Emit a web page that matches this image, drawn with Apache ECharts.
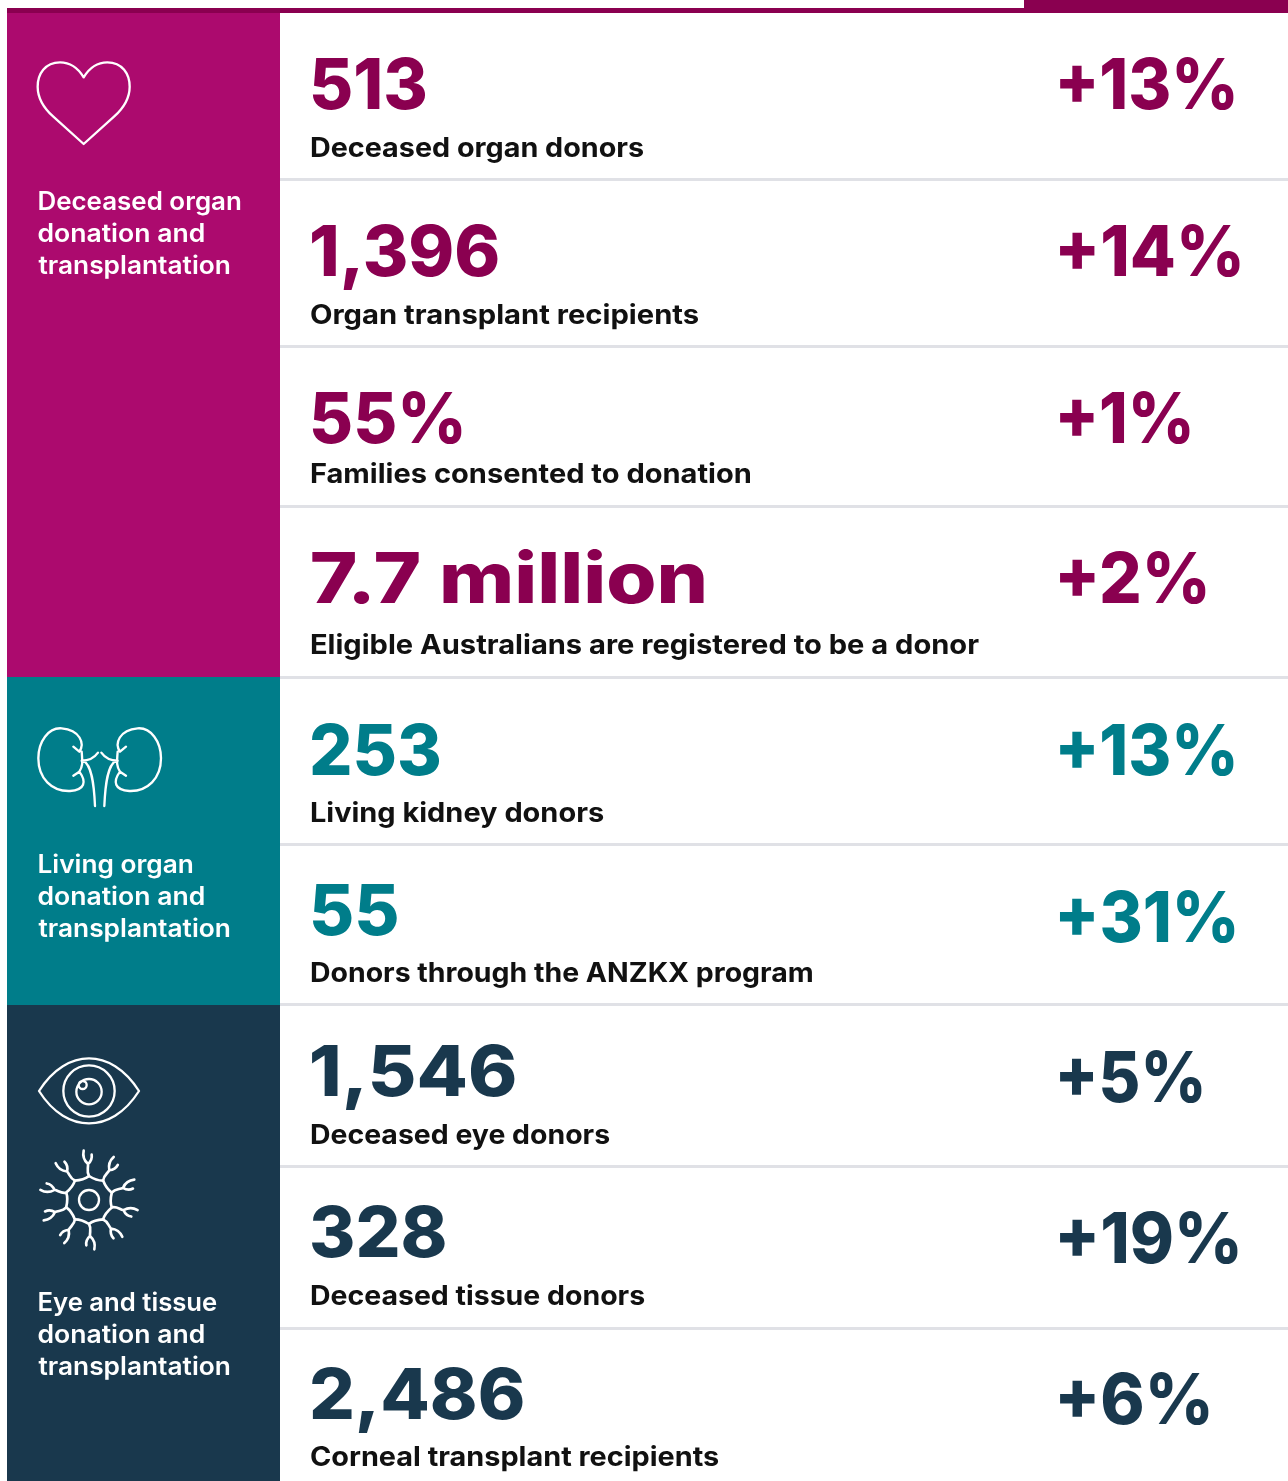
<!DOCTYPE html>
<html>
<head>
<meta charset="utf-8">
<style>
  html, body { margin: 0; padding: 0; background: #fff; }
  #main { width: 1288px; height: 1481px; }
</style>
<script src="https://cdn.jsdelivr.net/npm/echarts@6/dist/echarts.min.js"></script>
</head>
<body>
<div id="main"></div>
<script>
// figures
const metricValues = ['513', '1,396', '55%', '7.7 million', '253', '55', '1,546', '328', '2,486'];
const metricLabels = [
  'Deceased organ donors',
  'Organ transplant recipients',
  'Families consented to donation',
  'Eligible Australians are registered to be a donor',
  'Living kidney donors',
  'Donors through the ANZKX program',
  'Deceased eye donors',
  'Deceased tissue donors',
  'Corneal transplant recipients'
];
const metricChanges = ['+13%', '+14%', '+1%', '+2%', '+13%', '+31%', '+5%', '+19%', '+6%'];
const sectionNames = [
  ['Deceased organ', 'donation and', 'transplantation'],
  ['Living organ', 'donation and', 'transplantation'],
  ['Eye and tissue', 'donation and', 'transplantation']
];
const rowSection = [0, 0, 0, 0, 1, 1, 2, 2, 2];

// layout, in page pixels
const rowBottoms = [179, 346, 506, 677, 844, 1004, 1166, 1328];
const valueMidY = [88, 255, 422, 582, 754, 914, 1075, 1236, 1398];
const labelMidY = [149, 316, 475, 646, 814, 974, 1136, 1297, 1458];
const changeMidY = [88, 255, 422, 582, 754, 921, 1081, 1242, 1403];
const valueWidths = [114, 186, 150, 392, 128, 85, 203, 133, 211];
const labelWidths = [333, 388, 440, 668, 293, 501, 299, 334, 408];
const changeWidths = [174, 180, 130, 146, 174, 175, 142, 178, 149];
const sectionWidths = [[202, 165, 191], [154, 165, 191], [178, 165, 191]];
const panelEdges = [[13, 677], [677, 1005], [1005, 1481]];
const sectionTextY = [202.5, 865.5, 1303.5];

const panelColors = ['#ac0a6e', '#007d8a', '#19384d'];
const textColors = ['#8a0050', '#007d8a', '#19384d'];
const FONT = 'Inter, sans-serif';

const chart = echarts.init(document.getElementById('main'), null, { renderer: 'canvas' });
const measure = document.createElement('canvas').getContext('2d');

function rect(api, x0, y0, x1, y1, fill) {
  const a = api.coord([x0, y0]);
  const b = api.coord([x1, y1]);
  return { type: 'rect', shape: { x: a[0], y: a[1], width: b[0] - a[0], height: b[1] - a[1] }, style: { fill: fill }, silent: true };
}

// the page font is wider than Inter, so each string is stretched to the width it has in the picture
function fitText(api, left, y, str, font, fill, width) {
  measure.font = font;
  const m = measure.measureText(str);
  const sx = width / (m.actualBoundingBoxLeft + m.actualBoundingBoxRight);
  const p = api.coord([left + m.actualBoundingBoxLeft * sx, y]);
  return {
    type: 'text', x: p[0], y: p[1], scaleX: sx, silent: true,
    style: { text: str, font: font, fill: fill, align: 'left', verticalAlign: 'middle' }
  };
}

function renderPanel(params, api) {
  const i = api.value(0);
  const kids = [rect(api, 7, panelEdges[i][0], 280, panelEdges[i][1], panelColors[i])];
  sectionNames[i].forEach((line, k) => {
    kids.push(fitText(api, 38.5, sectionTextY[i] + k * 32, line, '600 25px ' + FONT, '#fff', sectionWidths[i][k]));
  });
  return { type: 'group', children: kids };
}

function renderRow(params, api) {
  const i = api.value(0);
  const color = textColors[rowSection[i]];
  const kids = [
    fitText(api, 312, valueMidY[i], metricValues[i], '800 70px ' + FONT, color, valueWidths[i]),
    fitText(api, 311, labelMidY[i], metricLabels[i], '700 27px ' + FONT, '#111', labelWidths[i]),
    fitText(api, 1060, changeMidY[i], metricChanges[i], '800 70px ' + FONT, color, changeWidths[i])
  ];
  if (i < rowBottoms.length) {
    kids.push(rect(api, 280, rowBottoms[i] - 1, 1288, rowBottoms[i] + 2, '#e0e1e6'));
  }
  return { type: 'group', children: kids };
}

// outline icons, drawn in a 3x box then scaled down
const iconLine = { stroke: '#fff', fill: null, lineWidth: 7, lineCap: 'round', lineJoin: 'round' };
function icon(x, y, pathData, rotation, lineWidth) {
  return {
    type: 'path', x: x, y: y, scaleX: 1 / 3, scaleY: 1 / 3, rotation: rotation || 0, silent: true,
    shape: { pathData: pathData }, style: Object.assign({}, iconLine, lineWidth ? { lineWidth: lineWidth } : {})
  };
}

const heartPath = 'M191 70 C170 35 145 25 120 25 C75 25 53 60 53 98 C53 138 80 170 100 188 L191 270 L282 188 C302 170 329 138 329 98 C329 60 307 25 262 25 C237 25 212 35 191 70 Z';

const kidneyPath =
  'M160 110 L178 125 C195 100 180 60 125 55 C85 52 55 95 55 145 C55 205 95 245 150 243 C195 240 200 215 178 185 L160 197 M178 185 C188 170 188 160 185 125' +
  'M234 128 C222 145 205 152 185 152 M190 152 C215 165 222 220 225 288' +
  'M318 110 L300 125 C283 100 298 60 353 55 C393 52 423 95 423 145 C423 205 383 245 328 243 C283 240 278 215 300 185 L318 197 M300 185 C290 170 290 160 293 125' +
  'M244 128 C256 145 273 152 293 152 M288 152 C263 165 256 220 253 288';

const eyePath =
  'M57 153 C100 85 155 55 207 55 C259 55 314 85 357 153 C314 221 259 250 207 250 C155 250 100 221 57 153 Z' +
  'M284 153 A77 77 0 1 1 130 153 A77 77 0 1 1 284 153 Z' +
  'M245 155 A38 38 0 1 1 169 155 A38 38 0 1 1 245 155 Z' +
  'M200 135 A12 12 0 1 1 176 135 A12 12 0 1 1 200 135 Z';

const cellPath = 'M30 0 A30 30 0 1 1 -30 0 A30 30 0 1 1 30 0 Z';
const cellBranch =
  'M0 -72 Q22 -58 42 -58 M0 -72 C-8 -85 -2 -95 -3 -108 C-14 -118 -20 -130 -16 -148 M-3 -108 C6 -116 10 -124 8 -136';

function renderIcons(params, api) {
  const kids = [
    icon(...api.coord([20, 54]), heartPath),
    icon(...api.coord([20, 710]), kidneyPath),
    icon(...api.coord([20, 1040]), eyePath),
    icon(...api.coord([89, 1200]), cellPath)
  ];
  for (let k = 0; k < 10; k++) {
    kids.push(icon(...api.coord([89, 1200]), cellBranch, -k * Math.PI / 5, 8));
  }
  return { type: 'group', children: kids };
}

chart.setOption({
  animation: false,
  backgroundColor: '#fff',
  grid: { left: 0, right: 0, top: 0, bottom: 0 },
  xAxis: { type: 'value', min: 0, max: 1288, show: false },
  yAxis: { type: 'value', min: 0, max: 1481, inverse: true, show: false },
  series: [
    {
      type: 'custom',
      coordinateSystem: 'cartesian2d',
      renderItem: renderPanel,
      encode: { x: 0, y: 0 },
      data: sectionNames.map((s, i) => [i]),
      z: 1
    },
    {
      type: 'custom',
      coordinateSystem: 'cartesian2d',
      renderItem: renderRow,
      encode: { x: 0, y: 0 },
      data: metricValues.map((v, i) => [i]),
      z: 2
    },
    {
      type: 'custom',
      coordinateSystem: 'cartesian2d',
      renderItem: (params, api) => ({
        type: 'group',
        children: [
          rect(api, 7, 8, 1288, 13, '#8a0050'),
          rect(api, 1024, 0, 1288, 13, '#8a0050')
        ]
      }),
      encode: { x: 0, y: 0 },
      data: [[0]],
      z: 3
    },
    {
      type: 'custom',
      coordinateSystem: 'cartesian2d',
      renderItem: renderIcons,
      encode: { x: 0, y: 0 },
      data: [[0]],
      z: 4
    }
  ]
});
</script>
</body>
</html>
